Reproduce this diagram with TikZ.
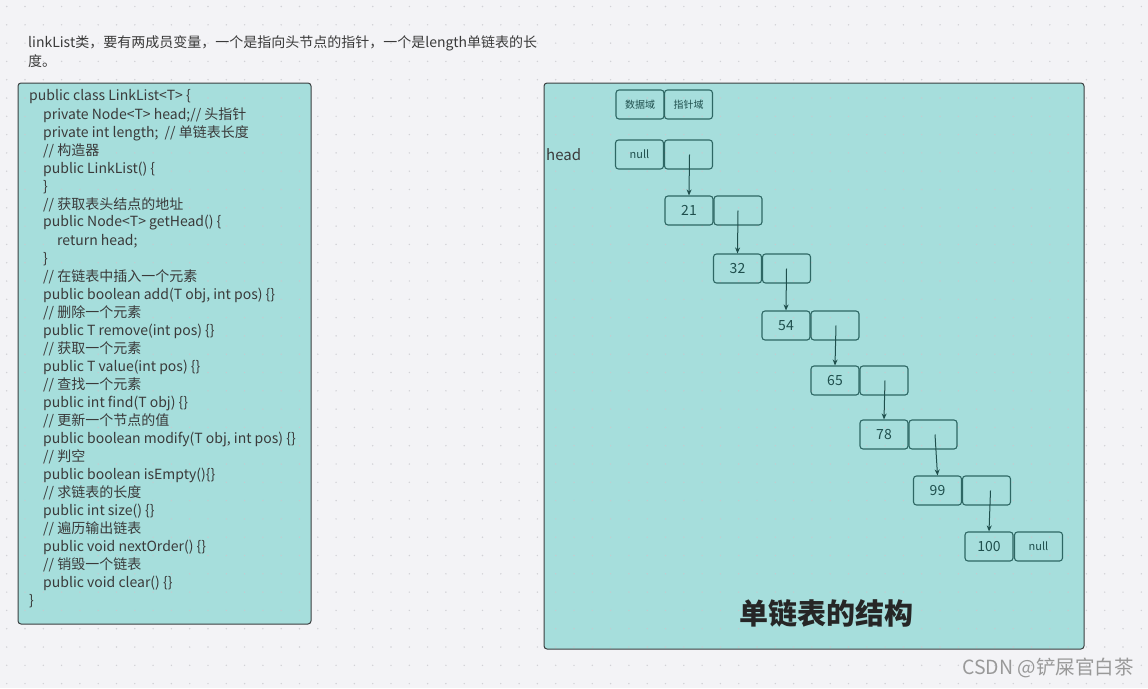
\documentclass[tikz,border=0pt]{standalone}
\usepackage{fontspec}
\setmainfont{Noto Sans CJK SC}
\usetikzlibrary{arrows.meta}
\definecolor{bgc}{HTML}{F3F3F6}
\definecolor{boxfill}{HTML}{A6DEDC}
\definecolor{boxline}{HTML}{3A3F40}
\definecolor{cellline}{HTML}{2E6764}
\definecolor{arrowc}{HTML}{1F4F4D}
\definecolor{txt}{HTML}{3A3A3A}
\definecolor{dotc}{HTML}{C9C9CE}
\begin{document}
\begin{tikzpicture}[x=1pt,y=-1pt,
  panel/.style={draw=boxline,fill=boxfill,line width=1pt,rounded corners=3pt},
  code/.style={anchor=west,inner sep=0pt,text=txt,font=\fontsize{14}{16}\selectfont},
  note/.style={anchor=west,inner sep=0pt,text=txt,font=\fontsize{14}{16}\selectfont},
  cell/.style={draw=cellline,line width=1.1pt,rounded corners=3pt,minimum width=48pt,minimum height=29pt,inner sep=0pt,text=arrowc,font=\fontsize{14}{16}\selectfont},
  small/.style={font=\fontsize{10}{12}\selectfont},
  link/.style={draw=arrowc,line width=1pt,-{Stealth[length=6pt,width=5pt]}}
]
\useasboundingbox (0,0) rectangle (1148,688);
\fill[bgc] (0,0) rectangle (1148,688);
% panels
\path[panel] (18,83) rectangle (311,624);
\path[panel] (544,83) rectangle (1084,649);
% dots
\foreach \i in {0,...,62}{\foreach \j in {0,...,37}{\fill[dotc,opacity=0.8] (6.7+18.3*\i,6.5+18.3*\j) circle (0.8pt);}}
% top note
\node[note] (n1) at (28,43) {linkList类，要有两成员变量，一个是指向头节点的指针，一个是length单链表的长};
\node[note] (n2) at (28,61) {度。};
% code
\node[code] (l1) at (29,97) {public class LinkList<T> \{};
\node[code] (l2) at (43,115) {private Node<T> head;// 头指针};
\node[code] (l3) at (43,133) {private int length;\ \ // 单链表长度};
\node[code] (l4) at (43,151) {// 构造器};
\node[code] (l5) at (43,169) {public LinkList() \{};
\node[code] (l6) at (43,187) {\}};
\node[code] (l7) at (43,205) {// 获取表头结点的地址};
\node[code] (l8) at (43,223) {public Node<T> getHead() \{};
\node[code] (l9) at (57,241) {return head;};
\node[code] (l10) at (43,259) {\}};
\node[code] (l11) at (43,277) {// 在链表中插入一个元素};
\node[code] (l12) at (43,295) {public boolean add(T obj, int pos) \{\}};
\node[code] (l13) at (43,313) {// 删除一个元素};
\node[code] (l14) at (43,331) {public T remove(int pos) \{\}};
\node[code] (l15) at (43,349) {// 获取一个元素};
\node[code] (l16) at (43,367) {public T value(int pos) \{\}};
\node[code] (l17) at (43,385) {// 查找一个元素};
\node[code] (l18) at (43,403) {public int find(T obj) \{\}};
\node[code] (l19) at (43,421) {// 更新一个节点的值};
\node[code] (l20) at (43,439) {public boolean modify(T obj, int pos) \{\}};
\node[code] (l21) at (43,457) {// 判空};
\node[code] (l22) at (43,475) {public boolean isEmpty()\{\}};
\node[code] (l23) at (43,493) {// 求链表的长度};
\node[code] (l24) at (43,511) {public int size() \{\}};
\node[code] (l25) at (43,529) {// 遍历输出链表};
\node[code] (l26) at (43,547) {public void nextOrder() \{\}};
\node[code] (l27) at (43,565) {// 销毁一个链表};
\node[code] (l28) at (43,583) {public void clear() \{\}};
\node[code] (l29) at (29,601) {\}};
% legend
\node[cell,small] (hd) at (640,104.5) {数据域};
\node[cell,small] (hp) at (688.5,104.5) {指针域};
% head label
\node[anchor=west,inner sep=0pt,text=txt,font=\fontsize{15}{16}\selectfont] (headlbl) at (546,155) {head};
% list nodes
\node[cell,small,font=\fontsize{11}{12}\selectfont] (d0) at (639.5,154.5) {null};
\node[cell] (p0) at (688.5,154.5) {};
\node[cell] (d1) at (689,210.5) {21};
\node[cell] (p1) at (738,210.5) {};
\node[cell] (d2) at (737.5,268.5) {32};
\node[cell] (p2) at (786.5,268.5) {};
\node[cell] (d3) at (786,325.5) {54};
\node[cell] (p3) at (835,325.5) {};
\node[cell] (d4) at (835,380.5) {65};
\node[cell] (p4) at (884,380.5) {};
\node[cell] (d5) at (884,434.5) {78};
\node[cell] (p5) at (933,434.5) {};
\node[cell] (d6) at (937.5,490.5) {99};
\node[cell] (p6) at (986.5,490.5) {};
\node[cell] (d7) at (989,546.5) {100};
\node[cell,font=\fontsize{11}{12}\selectfont] (p7) at (1038.5,546.5) {null};
% links
\draw[link] ([xshift=1pt]p0.center) -- (d1.north);
\draw[link] ([xshift=0pt]p1.center) -- (d2.north);
\draw[link] ([xshift=0pt]p2.center) -- (d3.north);
\draw[link] ([xshift=1pt]p3.center) -- (d4.north);
\draw[link] ([xshift=1pt]p4.center) -- (d5.north);
\draw[link] ([xshift=2pt]p5.center) -- (d6.north);
\draw[link] ([xshift=4pt]p6.center) -- (d7.north);
% title
\node[inner sep=0pt,text=black!85,font=\fontsize{29}{32}\selectfont\bfseries] (title) at (826,613) {单链表的结构};
% watermark
\node[anchor=west,inner sep=0pt,text=black!40,font=\fontsize{19.5}{22}\selectfont] (wm) at (962,668) {CSDN @铲屎官白茶};
\end{tikzpicture}
\end{document}
